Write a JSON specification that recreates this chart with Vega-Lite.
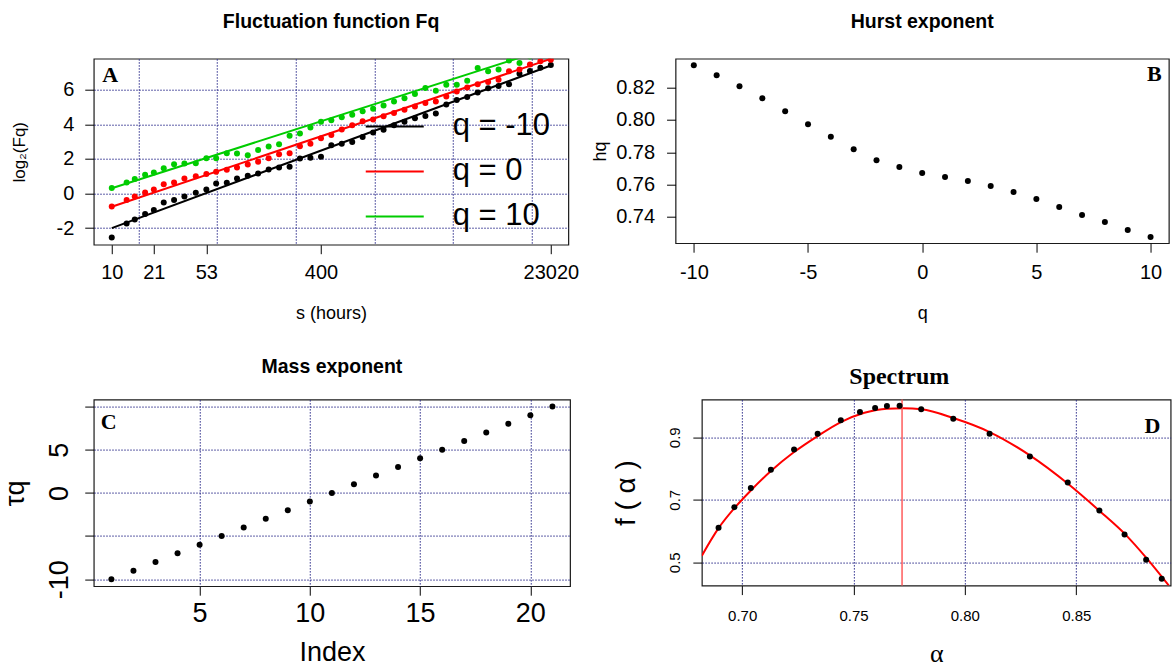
{
  "$schema": "https://vega.github.io/schema/vega-lite/v6.json",
  "padding": {"left": 0.75, "top": 10.7, "right": 0, "bottom": 0},
  "background": "white",
  "spacing": 32.9,
  "config": {
    "font": "Liberation Sans",
    "view": {"stroke": "#1a1a1a", "strokeWidth": 1.2},
    "axis": {
      "labelFont": "Liberation Sans", "titleFont": "Liberation Sans",
      "labelColor": "#000", "titleColor": "#000", "tickColor": "#000",
      "tickWidth": 1, "tickSize": 9, "domain": false,
      "labelFlush": false, "labelOverlap": false, "titleFontWeight": "normal",
      "gridColor": "#2a2a8a", "gridDash": [1.5, 1.5], "gridOpacity": 1, "gridWidth": 1,
      "labelFontSize": 20, "titleFontSize": 18
    },
    "title": {"font": "Liberation Sans", "fontWeight": "bold", "fontSize": 19.5, "color": "#000", "baseline": "alphabetic"}
  },
  "vconcat": [
    {
      "spacing": 10.8,
      "hconcat": [
        {
          "width": 474.6, "height": 186,
          "title": {"text": "Fluctuation function Fq", "offset": 26.2},
          "resolve": {"axis": {"x": "independent"}},
          "layer": [
            {
              "data": {"values": [
                {"s":10,"F":-2.54,"series":"q = -10"},{"s":13,"F":-1.73,"series":"q = -10"},{"s":15,"F":-1.5,"series":"q = -10"},{"s":18,"F":-1.19,"series":"q = -10"},{"s":21,"F":-0.96,"series":"q = -10"},{"s":25,"F":-0.52,"series":"q = -10"},{"s":30,"F":-0.37,"series":"q = -10"},{"s":36,"F":-0.17,"series":"q = -10"},{"s":44,"F":0.04,"series":"q = -10"},{"s":53,"F":0.23,"series":"q = -10"},{"s":63,"F":0.58,"series":"q = -10"},{"s":76,"F":0.62,"series":"q = -10"},{"s":91,"F":0.87,"series":"q = -10"},{"s":110,"F":1.02,"series":"q = -10"},{"s":132,"F":1.15,"series":"q = -10"},{"s":159,"F":1.38,"series":"q = -10"},{"s":191,"F":1.5,"series":"q = -10"},{"s":230,"F":1.54,"series":"q = -10"},{"s":276,"F":2.02,"series":"q = -10"},{"s":332,"F":2.06,"series":"q = -10"},{"s":400,"F":2.12,"series":"q = -10"},{"s":480,"F":2.79,"series":"q = -10"},{"s":577,"F":2.88,"series":"q = -10"},{"s":694,"F":2.98,"series":"q = -10"},{"s":834,"F":3.27,"series":"q = -10"},{"s":1003,"F":3.52,"series":"q = -10"},{"s":1206,"F":3.69,"series":"q = -10"},{"s":1450,"F":3.94,"series":"q = -10"},{"s":1744,"F":4.15,"series":"q = -10"},{"s":2097,"F":4.35,"series":"q = -10"},{"s":2521,"F":4.48,"series":"q = -10"},{"s":3031,"F":4.62,"series":"q = -10"},{"s":3645,"F":5.15,"series":"q = -10"},{"s":4383,"F":5.4,"series":"q = -10"},{"s":5270,"F":5.58,"series":"q = -10"},{"s":6337,"F":5.83,"series":"q = -10"},{"s":7619,"F":6.08,"series":"q = -10"},{"s":9160,"F":6.21,"series":"q = -10"},{"s":11014,"F":6.31,"series":"q = -10"},{"s":13244,"F":6.92,"series":"q = -10"},{"s":15922,"F":7.08,"series":"q = -10"},{"s":19145,"F":7.27,"series":"q = -10"},{"s":23020,"F":7.42,"series":"q = -10"},
                {"s":10,"F":-0.75,"series":"q = 0"},{"s":13,"F":-0.38,"series":"q = 0"},{"s":15,"F":-0.17,"series":"q = 0"},{"s":18,"F":0.06,"series":"q = 0"},{"s":21,"F":0.23,"series":"q = 0"},{"s":25,"F":0.54,"series":"q = 0"},{"s":30,"F":0.63,"series":"q = 0"},{"s":36,"F":0.87,"series":"q = 0"},{"s":44,"F":1.0,"series":"q = 0"},{"s":53,"F":1.12,"series":"q = 0"},{"s":63,"F":1.25,"series":"q = 0"},{"s":76,"F":1.37,"series":"q = 0"},{"s":91,"F":1.5,"series":"q = 0"},{"s":110,"F":1.67,"series":"q = 0"},{"s":132,"F":1.83,"series":"q = 0"},{"s":159,"F":2.04,"series":"q = 0"},{"s":191,"F":2.27,"series":"q = 0"},{"s":230,"F":2.33,"series":"q = 0"},{"s":276,"F":2.73,"series":"q = 0"},{"s":332,"F":2.88,"series":"q = 0"},{"s":400,"F":3.19,"series":"q = 0"},{"s":480,"F":3.38,"series":"q = 0"},{"s":577,"F":3.7,"series":"q = 0"},{"s":694,"F":3.94,"series":"q = 0"},{"s":834,"F":4.17,"series":"q = 0"},{"s":1003,"F":4.27,"series":"q = 0"},{"s":1206,"F":4.46,"series":"q = 0"},{"s":1450,"F":4.65,"series":"q = 0"},{"s":1744,"F":4.84,"series":"q = 0"},{"s":2097,"F":5.03,"series":"q = 0"},{"s":2521,"F":5.23,"series":"q = 0"},{"s":3031,"F":5.32,"series":"q = 0"},{"s":3645,"F":5.61,"series":"q = 0"},{"s":4383,"F":5.9,"series":"q = 0"},{"s":5270,"F":6.13,"series":"q = 0"},{"s":6337,"F":6.32,"series":"q = 0"},{"s":7619,"F":6.44,"series":"q = 0"},{"s":9160,"F":6.58,"series":"q = 0"},{"s":11014,"F":7.06,"series":"q = 0"},{"s":13244,"F":7.16,"series":"q = 0"},{"s":15922,"F":7.45,"series":"q = 0"},{"s":19145,"F":7.64,"series":"q = 0"},{"s":23020,"F":7.73,"series":"q = 0"},
                {"s":10,"F":0.31,"series":"q = 10"},{"s":13,"F":0.63,"series":"q = 10"},{"s":15,"F":0.83,"series":"q = 10"},{"s":18,"F":1.08,"series":"q = 10"},{"s":21,"F":1.21,"series":"q = 10"},{"s":25,"F":1.46,"series":"q = 10"},{"s":30,"F":1.69,"series":"q = 10"},{"s":36,"F":1.73,"series":"q = 10"},{"s":44,"F":1.75,"series":"q = 10"},{"s":53,"F":2.04,"series":"q = 10"},{"s":63,"F":2.04,"series":"q = 10"},{"s":76,"F":2.33,"series":"q = 10"},{"s":91,"F":2.31,"series":"q = 10"},{"s":110,"F":2.21,"series":"q = 10"},{"s":132,"F":2.52,"series":"q = 10"},{"s":159,"F":2.71,"series":"q = 10"},{"s":191,"F":2.85,"series":"q = 10"},{"s":230,"F":3.33,"series":"q = 10"},{"s":276,"F":3.46,"series":"q = 10"},{"s":332,"F":3.81,"series":"q = 10"},{"s":400,"F":4.15,"series":"q = 10"},{"s":480,"F":4.23,"series":"q = 10"},{"s":577,"F":4.4,"series":"q = 10"},{"s":694,"F":4.55,"series":"q = 10"},{"s":834,"F":4.75,"series":"q = 10"},{"s":1003,"F":4.9,"series":"q = 10"},{"s":1206,"F":5.09,"series":"q = 10"},{"s":1450,"F":5.32,"series":"q = 10"},{"s":1744,"F":5.51,"series":"q = 10"},{"s":2097,"F":5.75,"series":"q = 10"},{"s":2521,"F":6.09,"series":"q = 10"},{"s":3031,"F":5.94,"series":"q = 10"},{"s":3645,"F":6.29,"series":"q = 10"},{"s":4383,"F":6.29,"series":"q = 10"},{"s":5270,"F":6.52,"series":"q = 10"},{"s":6337,"F":7.25,"series":"q = 10"},{"s":7619,"F":7.06,"series":"q = 10"},{"s":9160,"F":7.16,"series":"q = 10"},{"s":11014,"F":7.68,"series":"q = 10"},{"s":13244,"F":7.54,"series":"q = 10"},{"s":15922,"F":7.92,"series":"q = 10"},{"s":19145,"F":8.1,"series":"q = 10"},{"s":23020,"F":8.3,"series":"q = 10"}
              ]},
              "mark": {"type": "circle", "size": 36, "opacity": 1, "clip": true},
              "encoding": {
                "x": {"field": "s", "type": "quantitative",
                      "scale": {"type": "log", "base": 2, "domain": [7.28, 31350], "nice": false},
                      "axis": {"orient": "bottom", "values": [10, 21, 53, 400, 23020], "format": "d", "grid": false, "title": "s (hours)", "labelPadding": 9, "titlePadding": 22}},
                "y": {"field": "F", "type": "quantitative",
                      "scale": {"domain": [-2.96, 7.79], "nice": false, "zero": false},
                      "axis": {"values": [-2, 0, 2, 4, 6], "grid": true, "title": "log₂(Fq)", "titleFontSize": 17, "labelPadding": 11, "titlePadding": 27,
                               "labelExpr": "replace(datum.label, '−', '-')"}},
                "fill": {"field": "series", "type": "nominal",
                          "scale": {"range": ["#000000", "#ff0000", "#00cc00"]},
                          "legend": null}
              }
            },
            {
              "data": {"values": [
                {"s":10,"F":-2.0,"q":"q = -10"},{"s":23020,"F":7.4,"q":"q = -10"},
                {"s":10,"F":-0.77,"q":"q = 0"},{"s":23020,"F":7.78,"q":"q = 0"},
                {"s":10,"F":0.3,"q":"q = 10"},{"s":23020,"F":8.43,"q":"q = 10"}
              ]},
              "mark": {"type": "line", "strokeWidth": 2, "clip": true},
              "encoding": {
                "x": {"field": "s", "type": "quantitative",
                      "axis": {"orient": "bottom", "values": [16, 64, 256, 1024, 4096, 16384], "grid": true, "labels": false, "ticks": false, "domain": false, "title": null}},
                "y": {"field": "F", "type": "quantitative"},
                "color": {"field": "q", "type": "nominal",
                          "scale": {"domain": ["q = -10", "q = 0", "q = 10"], "range": ["#000000", "#ff0000", "#00cc00"]},
                          "legend": {"orient": "none", "legendX": 271, "legendY": 37.7, "direction": "vertical", "title": null, "symbolType": "stroke", "symbolSize": 3364, "symbolStrokeWidth": 2, "labelFontSize": 31, "labelOffset": 28, "rowPadding": -10.5, "padding": 0}}
              }
            },
            {
              "data": {"values": [{"t": "A"}]},
              "mark": {"type": "text", "font": "Liberation Serif", "fontWeight": "bold", "fontSize": 22, "align": "center", "baseline": "middle", "color": "#000"},
              "encoding": {"x": {"datum": 9.71, "axis": null}, "y": {"datum": 6.87}, "text": {"field": "t"}}
            }
          ]
        },
        {
          "width": 493.3, "height": 184.5,
          "title": {"text": "Hurst exponent", "offset": 25.8},
          "layer": [
            {
              "data": {"values": [
                {"q":-10,"h":0.8338},{"q":-9,"h":0.8276},{"q":-8,"h":0.8208},{"q":-7,"h":0.8134},{"q":-6,"h":0.8054},{"q":-5,"h":0.7973},{"q":-4,"h":0.7896},{"q":-3,"h":0.7819},{"q":-2,"h":0.7751},{"q":-1,"h":0.7708},{"q":0,"h":0.7671},{"q":1,"h":0.7646},{"q":2,"h":0.7622},{"q":3,"h":0.7591},{"q":4,"h":0.7554},{"q":5,"h":0.751},{"q":6,"h":0.7461},{"q":7,"h":0.7412},{"q":8,"h":0.7368},{"q":9,"h":0.7319},{"q":10,"h":0.7276}
              ]},
              "mark": {"type": "circle", "size": 36, "opacity": 1, "color": "#000"},
              "encoding": {
                "x": {"field": "q", "type": "quantitative", "scale": {"domain": [-10.8, 10.8], "nice": false, "zero": false},
                      "axis": {"values": [-10, -5, 0, 5, 10], "grid": false, "title": "q", "labelPadding": 10, "titlePadding": 22,
                               "labelExpr": "replace(datum.label, '−', '-')"}},
                "y": {"field": "h", "type": "quantitative", "scale": {"domain": [0.7237, 0.8379], "nice": false, "zero": false},
                      "axis": {"values": [0.74, 0.76, 0.78, 0.8, 0.82], "format": ".2f", "grid": false, "title": "hq", "labelPadding": 12, "titlePadding": 6}}
              }
            },
            {
              "data": {"values": [{"t": "B"}]},
              "mark": {"type": "text", "font": "Liberation Serif", "fontWeight": "bold", "fontSize": 22, "align": "center", "baseline": "middle", "color": "#000"},
              "encoding": {"x": {"datum": 10.17}, "y": {"datum": 0.8286}, "text": {"field": "t"}}
            }
          ]
        }
      ]
    },
    {
      "spacing": 41.1,
      "hconcat": [
        {
          "width": 476.3, "height": 186.6,
          "title": {"text": "Mass exponent", "offset": 21.9},
          "layer": [
            {
              "data": {"values": [
                {"index":1,"tau":-10},{"index":2,"tau":-9},{"index":3,"tau":-8},{"index":4,"tau":-7},{"index":5,"tau":-6},{"index":6,"tau":-5},{"index":7,"tau":-4},{"index":8,"tau":-3},{"index":9,"tau":-2},{"index":10,"tau":-1},{"index":11,"tau":0},{"index":12,"tau":1},{"index":13,"tau":2},{"index":14,"tau":3},{"index":15,"tau":4},{"index":16,"tau":5},{"index":17,"tau":6},{"index":18,"tau":7},{"index":19,"tau":8},{"index":20,"tau":9},{"index":21,"tau":10}
              ]},
              "mark": {"type": "circle", "size": 36, "opacity": 1, "color": "#000"},
              "encoding": {
                "x": {"field": "index", "type": "quantitative", "scale": {"domain": [0.2, 21.8], "nice": false, "zero": false},
                      "axis": {"values": [5, 10, 15, 20], "grid": true, "title": "Index", "labelFontSize": 27, "titleFontSize": 27, "labelPadding": 5, "titlePadding": 13.7}},
                "y": {"field": "tau", "type": "quantitative", "scale": {"domain": [-10.8, 10.8], "nice": false, "zero": false},
                      "axis": {"values": [-10, -5, 0, 5, 10], "grid": true, "title": "τq", "labelFontSize": 27, "titleFontSize": 27,
                               "labelAngle": -90, "labelAlign": "center", "labelBaseline": "alphabetic", "labelPadding": 16.8,
                               "labelExpr": "datum.value == -5 || datum.value == 10 ? '' : replace(datum.label, '−', '-')", "titlePadding": 16.6}}
              }
            },
            {
              "data": {"values": [{"t": "C"}]},
              "mark": {"type": "text", "font": "Liberation Serif", "fontWeight": "bold", "fontSize": 22, "align": "center", "baseline": "middle", "color": "#000"},
              "encoding": {"x": {"datum": 0.88}, "y": {"datum": 8.22}, "text": {"field": "t"}}
            }
          ]
        },
        {
          "width": 468.8, "height": 186,
          "title": {"text": "Spectrum", "font": "Liberation Serif", "fontSize": 24, "offset": 9.9, "dx": -37},
          "layer": [
            {
              "data": {"values": [
                {"a":0.6819,"f":0.521},{"a":0.6894,"f":0.609},{"a":0.6965,"f":0.673},{"a":0.7039,"f":0.7297},{"a":0.7129,"f":0.7917},{"a":0.7233,"f":0.8526},{"a":0.7339,"f":0.9038},{"a":0.7443,"f":0.9487},{"a":0.7549,"f":0.9786},{"a":0.765,"f":0.9915},{"a":0.7725,"f":0.9925},{"a":0.7805,"f":0.9893},{"a":0.7948,"f":0.9615},{"a":0.8111,"f":0.9167},{"a":0.8292,"f":0.8419},{"a":0.8463,"f":0.7511},{"a":0.8606,"f":0.6635},{"a":0.8718,"f":0.5908},{"a":0.8815,"f":0.5139},{"a":0.8916,"f":0.4252}
              ]},
              "mark": {"type": "line", "color": "#ff0000", "strokeWidth": 2, "clip": true, "interpolate": "monotone"},
              "encoding": {
                "x": {"field": "a", "type": "quantitative", "scale": {"domain": [0.6819, 0.8924], "nice": false, "zero": false},
                      "axis": {"values": [0.7, 0.75, 0.8, 0.85], "format": ".2f", "grid": true, "title": "α", "titleFont": "Liberation Serif", "titleFontSize": 26, "labelFontSize": 15, "labelPadding": 13.7, "titlePadding": 17.3}},
                "y": {"field": "f", "type": "quantitative", "scale": {"domain": [0.4253, 1.0205], "nice": false, "zero": false},
                      "axis": {"values": [0.5, 0.6, 0.7, 0.8, 0.9, 1.0], "grid": true, "title": "f ( α )", "titleFontSize": 28, "labelFontSize": 15,
                               "labelAngle": -90, "labelAlign": "center", "labelBaseline": "alphabetic", "labelPadding": 13.5,
                               "labelExpr": "abs(datum.value - 0.6) < 0.01 || abs(datum.value - 0.8) < 0.01 || abs(datum.value - 1) < 0.01 ? '' : format(datum.value, '.1f')", "titlePadding": 26.7}}
              }
            },
            {
              "data": {"values": [{}]},
              "mark": {"type": "rule", "color": "#ff5c5c", "strokeWidth": 1.5},
              "encoding": {"x": {"datum": 0.7718}}
            },
            {
              "data": {"values": [
                {"a":0.6894,"f":0.61},{"a":0.6965,"f":0.6763},{"a":0.7039,"f":0.7372},{"a":0.7129,"f":0.7959},{"a":0.7233,"f":0.8605},{"a":0.7339,"f":0.9114},{"a":0.7443,"f":0.9542},{"a":0.7529,"f":0.9808},{"a":0.7597,"f":0.9936},{"a":0.765,"f":1.0},{"a":0.7707,"f":1.0005},{"a":0.7804,"f":0.9894},{"a":0.7948,"f":0.9594},{"a":0.8111,"f":0.9113},{"a":0.8292,"f":0.8387},{"a":0.8462,"f":0.7554},{"a":0.8604,"f":0.6657},{"a":0.8717,"f":0.5888},{"a":0.8814,"f":0.508},{"a":0.8884,"f":0.4472}
              ]},
              "mark": {"type": "circle", "size": 36, "opacity": 1, "color": "#000"},
              "encoding": {"x": {"field": "a", "type": "quantitative"}, "y": {"field": "f", "type": "quantitative"}}
            },
            {
              "data": {"values": [{"t": "D"}]},
              "mark": {"type": "text", "font": "Liberation Serif", "fontWeight": "bold", "fontSize": 22, "align": "center", "baseline": "middle", "color": "#000"},
              "encoding": {"x": {"datum": 0.8842}, "y": {"datum": 0.9373}, "text": {"field": "t"}}
            }
          ]
        }
      ]
    }
  ]
}
